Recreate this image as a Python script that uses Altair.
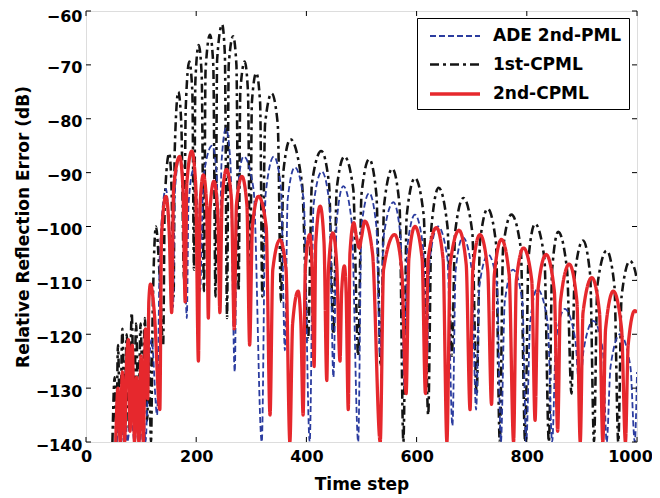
import altair as alt
import pandas as pd

series_names = ["ADE 2nd-PML", "1st-CPML", "2nd-CPML"]

# ---- 1st-CPML (black, dash-dot) ----
black_x = [48, 52, 55, 58, 62, 66, 70, 74, 78, 83, 87, 91, 95, 99, 103, 107, 111, 114, 118,
           121, 127, 133, 140,
           143, 151, 155, 159,
           161, 167.5, 173, 178,
           181, 187.5, 193, 196,
           198.5, 204.5, 210, 214,
           217, 225, 231, 235,
           238, 247, 252, 256,
           259, 267, 273, 277,
           280, 288, 294, 298,
           301, 309, 316, 320,
           325, 337, 348, 354,
           358, 371, 392, 403,
           410, 427, 441, 449,
           455, 469, 485, 494,
           500, 514, 527, 535,
           541, 556, 569, 576,
           582, 597, 613, 621,
           627, 640, 656, 664,
           670, 685, 701, 709,
           715, 729, 744, 751,
           757, 772, 789, 797,
           803, 815, 832, 840,
           846, 857, 873, 881,
           887, 902, 915, 922,
           928, 945, 959, 966,
           972, 987, 996, 1000]
black_y = [-140, -128, -140, -122, -138, -119, -135, -120, -138, -116, -134, -118, -137, -118, -130, -117, -136, -123, -140,
           -116, -100, -108, -122,
           -95, -86.4, -92, -113,
           -86, -75, -81, -110,
           -78, -69.4, -75, -108,
           -73, -66.3, -72, -112,
           -71, -64.4, -70, -113,
           -69, -62.5, -68, -117,
           -70, -64.7, -70, -112,
           -75, -69.4, -75, -114,
           -77, -71.5, -77, -113,
           -81, -75.3, -81, -114,
           -90, -83.8, -92, -121,
           -92, -86, -92, -120,
           -93, -87, -93, -124,
           -94, -87.5, -94, -126,
           -96, -89.3, -96, -140,
           -98, -91, -98, -135,
           -100, -92.8, -100, -124,
           -101, -94.7, -101, -131,
           -103, -96.7, -103, -140,
           -104, -97.8, -104, -140,
           -106, -99.5, -106, -140,
           -108, -101, -108, -131,
           -109, -102.6, -109, -140,
           -111, -104.5, -111, -140,
           -113, -106.4, -108, -110]

# ---- ADE 2nd-PML (blue, dashed) ----
blue_x = [56, 60, 64, 70, 75, 82, 88, 94, 98, 104, 108, 113, 119, 129,
          134, 145, 151, 158,
          161, 170, 177, 183,
          186, 195, 202, 207,
          213, 229, 237, 242,
          246, 254, 262, 270,
          274, 286, 304, 319,
          326, 341, 354, 361,
          366, 379, 395, 406,
          413, 428, 442, 449,
          455, 467, 482, 494,
          500, 514, 527, 534,
          540, 558, 571, 578,
          583, 597, 612, 618,
          624, 639, 656, 665,
          671, 684, 700, 708,
          714, 730, 746, 753,
          760, 775, 792, 799,
          806, 819, 838, 846,
          853, 869, 888, 896,
          903, 921, 938, 945,
          952, 969, 988, 996,
          1000]
blue_y = [-140, -134, -140, -132, -140, -135, -140, -136, -140, -133, -140, -128, -121, -135,
          -105, -93, -100, -115,
          -94, -87, -94, -117,
          -96, -89.5, -96, -112,
          -91, -85, -90, -110,
          -88, -81.8, -88, -127,
          -95, -87, -93, -140,
          -94, -87, -93, -123,
          -95, -89, -95, -140,
          -96, -89.8, -96, -128,
          -99, -92.5, -99, -140,
          -100, -93.8, -100, -124,
          -102, -95.5, -102, -130,
          -104, -97.8, -104, -127,
          -106, -100, -106, -137,
          -108, -102, -108, -134,
          -111, -105.2, -111, -140,
          -114, -108, -114, -140,
          -118, -111.6, -118, -140,
          -121, -115.3, -121, -131,
          -123, -117.5, -123, -140,
          -126, -120, -126, -140,
          -127]

# ---- 2nd-CPML (red, solid) ----
red_x = [54, 58, 62, 66, 70, 74, 77, 80, 84, 88, 92, 96, 100, 104, 108, 112,
         114, 117, 124, 134,
         137, 145, 151, 155.5,
         159, 170, 176, 180,
         183, 192, 199, 204,
         207, 213, 219, 222,
         225, 232, 239, 243,
         247, 255, 264, 269,
         273, 283, 292, 297,
         302, 313, 327, 334,
         339, 352, 363, 370,
         375, 385, 390, 394,
         398, 406, 410, 414,
         417, 425, 432, 437,
         440, 448, 455, 461,
         464, 469, 472, 476,
         479, 486, 491, 496,
         500, 506, 520, 534,
         540, 560, 573, 581,
         586, 597, 610, 616,
         621, 636, 648, 655,
         661, 677, 690, 697,
         702, 715, 729, 736,
         741, 754, 768, 776,
         781, 794, 809, 815,
         820, 835, 850, 856,
         861, 877, 891, 897,
         902, 918, 932, 938,
         943, 957, 972, 979,
         984, 996, 1000]
red_y = [-140, -130, -140, -127, -140, -124, -121, -138, -122, -140, -128, -140, -124, -140, -119, -132,
         -114, -110.7, -116, -134,
         -102, -94.4, -101, -116,
         -93, -87, -93, -114,
         -92, -86, -92, -125,
         -96, -90.4, -96, -117,
         -97, -91.6, -97, -116,
         -95, -89.4, -95, -119,
         -96, -90.7, -96, -122,
         -100, -94.4, -100, -135,
         -108, -102.5, -108, -140,
         -118, -112, -118, -135,
         -108, -101.5, -107, -126,
         -103, -96.2, -103, -128.6,
         -108, -101.2, -107, -125,
         -112, -107.3, -112, -134,
         -105, -99.3, -102, -104,
         -102, -99, -105, -140,
         -108, -101.5, -108, -131,
         -106, -100, -106, -131,
         -106, -100.2, -106, -140,
         -107, -100.7, -107, -134,
         -108, -101.5, -108, -133,
         -109, -102.4, -109, -140,
         -110, -104, -110, -136,
         -112, -105.2, -112, -138,
         -114, -107, -114, -140,
         -116, -109.5, -116, -140,
         -119, -112, -119, -140,
         -122, -115.6, -116]

x_ticks = [0, 200, 400, 600, 800, 1000]
y_ticks = [-140, -130, -120, -110, -100, -90, -80, -70, -60]

rows = []
for name, xs, ys in [("1st-CPML", black_x, black_y),
                     ("ADE 2nd-PML", blue_x, blue_y),
                     ("2nd-CPML", red_x, red_y)]:
    assert len(xs) == len(ys), name
    for i, (a, b) in enumerate(zip(xs, ys)):
        rows.append({"step": a, "err": b, "series": name, "idx": i})
df = pd.DataFrame(rows)

W, H = 551, 431
FONT = "DejaVu Sans"

xscale = alt.Scale(domain=[0, 1000], nice=False, zero=False)
yscale = alt.Scale(domain=[-140, -60], nice=False, zero=False)

xaxis = alt.Axis(values=x_ticks, format="d", ticks=False, grid=False, domain=False,
                 labelFont=FONT, labelFontWeight="bold", labelFontSize=16,
                 labelColor="black", labelPadding=6, labelFlush=False,
                 labelOffset={"condition": {"test": "datum.value == 1000", "value": -7}, "value": 0},
                 titleFont=FONT, titleFontWeight="bold", titleFontSize=17,
                 titleColor="black", titlePadding=12)
yaxis = alt.Axis(values=y_ticks, format="d", ticks=False, grid=False, domain=False,
                 labelFont=FONT, labelFontWeight="bold", labelFontSize=16,
                 labelColor="black", labelPadding=4, labelFlush=False,
                 labelOffset={"condition": {"test": "datum.value == -60", "value": 5}, "value": 3},
                 titleFont=FONT, titleFontWeight="bold", titleFontSize=17,
                 titleColor="black", titlePadding=3)

color_scale = alt.Scale(domain=series_names, range=["#2b3c9f", "#141414", "#e6282d"])
dash_scale = alt.Scale(domain=series_names, range=[[6, 3], [9, 4, 3, 4], [1, 0]])
width_scale = alt.Scale(domain=series_names, range=[1.8, 3.3, 2.0])

legend = alt.Legend(title=None, orient="none", legendX=331, legendY=7,
                    symbolType="M-0.6,0H4.4", symbolSize=400,
                    labelFont=FONT, labelFontWeight="bold", labelFontSize=17,
                    labelColor="black", labelOffset=45, padding=7, rowPadding=9,
                    strokeColor="black", fillColor="white", cornerRadius=0)


def series_layer(name):
    return alt.Chart(df).transform_filter(alt.datum.series == name).mark_line(
        interpolate="monotone", clip=True
    ).encode(
        x=alt.X("step:Q", scale=xscale, axis=xaxis, title="Time step"),
        y=alt.Y("err:Q", scale=yscale, axis=yaxis, title="Relative Reflection Error (dB)"),
        color=alt.Color("series:N", scale=color_scale, legend=legend),
        strokeDash=alt.StrokeDash("series:N", scale=dash_scale, legend=legend),
        strokeWidth=alt.StrokeWidth("series:N", scale=width_scale, legend=legend),
        order="idx:Q",
    )


xt = pd.DataFrame({"step": x_ticks})
yt = pd.DataFrame({"err": y_ticks})
tick_x_bottom = alt.Chart(xt).mark_rule(color="black", strokeWidth=1).encode(
    x=alt.X("step:Q", scale=xscale, axis=xaxis, title="Time step"),
    y=alt.value(H), y2=alt.value(H - 5))
tick_x_top = alt.Chart(xt).mark_rule(color="black", strokeWidth=1).encode(
    x=alt.X("step:Q", scale=xscale, axis=xaxis, title="Time step"),
    y=alt.value(0), y2=alt.value(5))
tick_y_left = alt.Chart(yt).mark_rule(color="black", strokeWidth=1).encode(
    y=alt.Y("err:Q", scale=yscale, axis=yaxis, title="Relative Reflection Error (dB)"),
    x=alt.value(0), x2=alt.value(5))
tick_y_right = alt.Chart(yt).mark_rule(color="black", strokeWidth=1).encode(
    y=alt.Y("err:Q", scale=yscale, axis=yaxis, title="Relative Reflection Error (dB)"),
    x=alt.value(W), x2=alt.value(W - 5))

chart = alt.layer(
    series_layer("1st-CPML"),
    series_layer("ADE 2nd-PML"),
    series_layer("2nd-CPML"),
    tick_x_bottom, tick_x_top, tick_y_left, tick_y_right,
).properties(
    width=W, height=H,
    autosize=alt.AutoSizeParams(type="none"),
    padding={"left": 78, "top": 3, "right": 15, "bottom": 55},
    background="white",
).configure_view(
    stroke="black", strokeWidth=1.2
).configure(font=FONT)

chart.save("out.html", embed_options={"renderer": "svg", "actions": False})
